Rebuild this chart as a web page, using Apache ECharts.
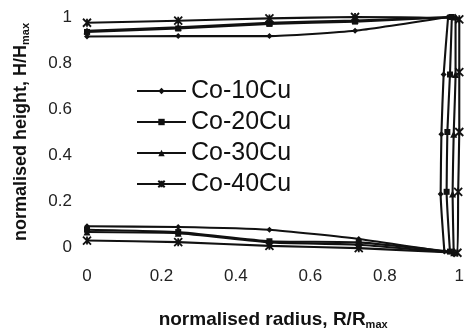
<!DOCTYPE html>
<html>
<head>
<meta charset="utf-8">
<script src="https://cdn.jsdelivr.net/npm/echarts@6/dist/echarts.min.js"></script>
<style>
  html, body { margin: 0; padding: 0; background: #fff; }
  #main { width: 467px; height: 335px; }
</style>
</head>
<body>
<div id="main"></div>
<script>
// profile points, walked from the centre along the bottom, up the rim, back along the top
const seriesNames = ['Co-10Cu', 'Co-20Cu', 'Co-30Cu', 'Co-40Cu'];

const radius10 = [0, 0.245, 0.49, 0.73, 0.96, 0.95, 0.952, 0.958, 0.97, 0.72, 0.49, 0.245, 0];
const height10 = [0.09, 0.087, 0.075, 0.035, -0.02, 0.23, 0.49, 0.75, 1.0, 0.94, 0.917, 0.917, 0.915];

const radius20 = [0, 0.245, 0.49, 0.73, 0.975, 0.966, 0.968, 0.975, 0.98, 0.72, 0.49, 0.245, 0];
const height20 = [0.075, 0.065, 0.025, 0.02, -0.02, 0.24, 0.5, 0.75, 1.0, 0.98, 0.97, 0.95, 0.935];

const radius30 = [0, 0.245, 0.49, 0.73, 0.985, 0.982, 0.985, 0.99, 0.99, 0.72, 0.49, 0.245, 0];
const height30 = [0.065, 0.06, 0.02, 0.01, -0.025, 0.23, 0.49, 0.75, 1.0, 0.985, 0.975, 0.955, 0.94];

const radius40 = [0, 0.245, 0.49, 0.73, 0.995, 0.997, 1.0, 1.0, 1.0, 0.72, 0.49, 0.245, 0];
const height40 = [0.028, 0.021, 0.005, -0.005, -0.025, 0.24, 0.5, 0.76, 0.99, 1.0, 0.994, 0.984, 0.975];

const xTicks = [0, 0.2, 0.4, 0.6, 0.8, 1];

const symbols = ['diamond', 'rect', 'triangle', 'path://M0,0L10,10M10,0L0,10M5,0L5,10'];
const symbolSizes = [6, 6, 7, 8];

function pairs(xs, ys) {
    return xs.map(function (x, i) { return [x, ys[i]]; });
}

const allData = [
    pairs(radius10, height10),
    pairs(radius20, height20),
    pairs(radius30, height30),
    pairs(radius40, height40)
];

const ink = '#111';
const font = 'Liberation Sans, Arial, sans-serif';

var myChart = echarts.init(document.getElementById('main'));

var option = {
    backgroundColor: '#fff',
    animation: false,
    grid: { left: 87, right: 4, top: 17, bottom: 80 },
    legend: {
        orient: 'vertical',
        left: 131,
        top: 71,
        itemWidth: 49,
        itemHeight: 8,
        itemGap: 1,
        textStyle: { fontFamily: font, fontSize: 25, lineHeight: 30, color: ink },
        data: seriesNames
    },
    xAxis: {
        type: 'value',
        min: 0,
        max: 1,
        interval: 0.2,
        axisLine: { show: false },
        axisTick: { show: false },
        splitLine: { show: false },
        axisLabel: {
            margin: 21,
            fontFamily: font,
            fontSize: 17,
            color: '#222',
            formatter: function (v) {
                var hit = xTicks.find(function (t) { return Math.abs(t - v) < 1e-6; });
                return hit === undefined ? '' : String(hit);
            }
        },
        name: 'normalised radius, R/R{sub|max}',
        nameLocation: 'middle',
        nameGap: 63,
        nameTextStyle: {
            fontFamily: font,
            fontSize: 19,
            fontWeight: 'bold',
            color: ink,
            rich: {
                sub: { fontFamily: font, fontSize: 11, fontWeight: 'bold', color: ink, padding: [9, 0, 0, 0] }
            }
        }
    },
    yAxis: {
        type: 'value',
        min: 0,
        max: 1,
        interval: 0.2,
        axisLine: { show: false },
        axisTick: { show: false },
        splitLine: { show: false },
        axisLabel: { margin: 15, fontFamily: font, fontSize: 17, color: '#222' },
        name: 'normalised height, H/H{sub|max}',
        nameLocation: 'middle',
        nameRotate: 90,
        nameGap: 56,
        nameTextStyle: {
            fontFamily: font,
            fontSize: 18,
            fontWeight: 'bold',
            color: ink,
            rich: {
                sub: { fontFamily: font, fontSize: 11, fontWeight: 'bold', color: ink, padding: [9, 0, 0, 0] }
            }
        }
    },
    series: seriesNames.map(function (name, i) {
        return {
            name: name,
            type: 'line',
            data: allData[i],
            clip: false,
            smooth: 0.15,
            symbol: symbols[i],
            symbolSize: symbolSizes[i],
            showSymbol: true,
            lineStyle: { color: ink, width: 2.1 },
            itemStyle: { color: ink, borderColor: ink, borderWidth: i === 3 ? 1.8 : 0 }
        };
    })
};

myChart.setOption(option);
</script>
</body>
</html>
